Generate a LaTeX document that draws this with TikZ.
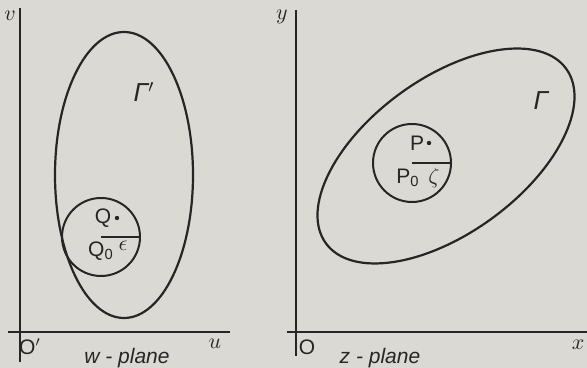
\documentclass[tikz,border=0pt]{standalone}
\usepackage{fontspec}
\setsansfont{Liberation Sans}
\definecolor{fgpapier}{HTML}{DAD9D4}
\definecolor{fgtinte}{HTML}{262626}
\newcommand{\fglab}{\fontsize{10.5}{12}\selectfont}
\newcommand{\fggam}{\fontsize{13}{15}\selectfont}
\begin{document}
\begin{tikzpicture}[x=0.5pt,y=0.5pt]
\useasboundingbox (0,0) rectangle (587,368);
\fill[fgpapier] (0,0) rectangle (587,368);
% w-plane
\draw[fgtinte,line width=1.1] (20,360) -- (20,6);
\draw[fgtinte,line width=1.1] (8,36) -- (230,36);
\node[text=fgtinte,inner sep=0] (lblv) at (10,352) {\fglab $v$};
\node[text=fgtinte,inner sep=0] (lblu) at (215,24) {\fglab $u$};
\node[text=fgtinte,inner sep=0] (origw) at (30,21) {\fglab\sffamily O$'$};
\node[text=fgtinte,inner sep=0] (wplane) at (127,10) {\fglab\sffamily\itshape w - plane};
\draw[fgtinte,line width=1.1] (124,193) ellipse (69 and 143);
\node[text=fgtinte,inner sep=0] (gamw) at (144,276) {\fggam\sffamily\itshape Γ$'$};
\draw[fgtinte,line width=1] (101,131) circle (39);
\draw[fgtinte,line width=1] (101,131) -- (140,131);
\node[text=fgtinte,inner sep=0] (ptq) at (103,150) {\fglab\sffamily Q};
\fill[fgtinte] (117,150) circle (2.2);
\node[text=fgtinte,inner sep=0] (ptqo) at (101,117) {\fglab\sffamily Q\textsubscript{0}};
\node[text=fgtinte,inner sep=0] (eps) at (123,122) {\fglab $\epsilon$};
% z-plane
\draw[fgtinte,line width=1.1] (296,358) -- (296,12);
\draw[fgtinte,line width=1.1] (287,36) -- (587,36);
\node[text=fgtinte,inner sep=0] (lbly) at (282,351) {\fglab $y$};
\node[text=fgtinte,inner sep=0] (lblx) at (578,23) {\fglab $x$};
\node[text=fgtinte,inner sep=0] (origz) at (307,21) {\fglab\sffamily O};
\node[text=fgtinte,inner sep=0] (zplane) at (380,10) {\fglab\sffamily\itshape z - plane};
\draw[fgtinte,line width=1.1,rotate around={36:(446,212)}] (446,212) ellipse (148.5 and 77.5);
\node[text=fgtinte,inner sep=0] (gamz) at (541,267) {\fggam\sffamily\itshape Γ};
\draw[fgtinte,line width=1] (412,205) circle (39);
\draw[fgtinte,line width=1] (412,205) -- (451,205);
\node[text=fgtinte,inner sep=0] (ptp) at (417,225) {\fglab\sffamily P};
\fill[fgtinte] (429,225) circle (2.2);
\node[text=fgtinte,inner sep=0] (ptpo) at (408,190) {\fglab\sffamily P\textsubscript{0}};
\node[text=fgtinte,inner sep=0] (zeta) at (434,190) {\fglab $\zeta$};
\end{tikzpicture}
\end{document}
